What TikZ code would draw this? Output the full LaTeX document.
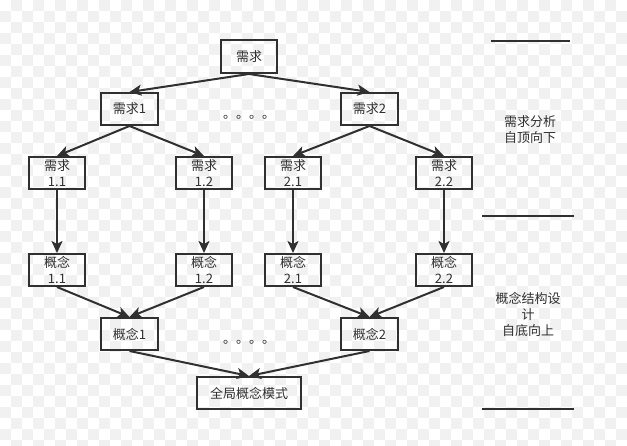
\documentclass[tikz,border=0pt]{standalone}
\usepackage{fontspec}
\setmainfont{Noto Sans CJK SC}
\usetikzlibrary{arrows.meta}
\definecolor{ink}{HTML}{303030}
\definecolor{bgsq}{HTML}{F1F1F1}
\begin{document}
\begin{tikzpicture}[x=1pt,y=-1pt,
  box/.style={draw=ink, line width=2pt, text=ink, inner sep=0pt,
    minimum width=56pt, minimum height=32pt, align=center,
    font=\fontsize{13}{16}\selectfont},
  wide/.style={box, minimum width=104pt},
  conn/.style={draw=ink, line width=2pt,
    -{Stealth[length=12pt,width=11pt,inset=3pt]}},
  lbl/.style={text=ink, align=center, inner sep=0pt,
    font=\fontsize{13}{16}\selectfont},
  rule/.style={draw=ink, line width=2pt}]
\useasboundingbox (0,0) rectangle (627,445);
\fill[white] (0,0) rectangle (627,445);
\foreach \i in {0,...,57}{
  \foreach \j in {0,...,40}{
    \pgfmathtruncatemacro{\chk}{mod(\i+\j,2)}
    \ifnum\chk=1
      \fill[bgsq] (\i*11,\j*11) rectangle ++(11,11);
    \fi
  }
}
% top-down
\node[box, minimum height=33pt] (r) at (249,56.5) {需求};
\node[box, minimum width=57pt] (r1) at (129.5,109) {需求1};
\node[box, minimum width=57pt] (r2) at (369.5,109) {需求2};
\node[lbl] (d1) at (249,117) {。。。。};
\node[box] (r11) at (57,173) {需求\\1.1};
\node[box] (r12) at (204,173) {需求\\1.2};
\node[box] (r21) at (293,173) {需求\\2.1};
\node[box] (r22) at (444,173) {需求\\2.2};
% bottom-up
\node[box] (c11) at (57,270) {概念\\1.1};
\node[box] (c12) at (204,270) {概念\\1.2};
\node[box] (c21) at (293,270) {概念\\2.1};
\node[box] (c22) at (444,270) {概念\\2.2};
\node[box, minimum width=57pt] (c1) at (129.5,334) {概念1};
\node[box, minimum width=57pt] (c2) at (369.5,334) {概念2};
\node[lbl] (d2) at (249,342) {。。。。};
\node[wide] (g) at (249,393) {全局概念模式};
% connectors
\draw[conn] (r.south) -- (r1.north);
\draw[conn] (r.south) -- (r2.north);
\draw[conn] (r1.south) -- (r11.north);
\draw[conn] (r1.south) -- (r12.north);
\draw[conn] (r2.south) -- (r21.north);
\draw[conn] (r2.south) -- (r22.north);
\draw[conn] (r11.south) -- (c11.north);
\draw[conn] (r12.south) -- (c12.north);
\draw[conn] (r21.south) -- (c21.north);
\draw[conn] (r22.south) -- (c22.north);
\draw[conn] (c11.south) -- (c1.north);
\draw[conn] (c12.south) -- (c1.north);
\draw[conn] (c21.south) -- (c2.north);
\draw[conn] (c22.south) -- (c2.north);
\draw[conn] (c1.south) -- (g.north);
\draw[conn] (c2.south) -- (g.north);
% right side
\draw[rule] (491,41) -- (570,41);
\draw[rule] (482,216) -- (574,216);
\draw[rule] (482,409) -- (574,409);
\node[lbl] (t1) at (530,130) {需求分析\\自顶向下};
\node[lbl] (t2) at (528,314) {概念结构设\\计\\自底向上};
\end{tikzpicture}
\end{document}
